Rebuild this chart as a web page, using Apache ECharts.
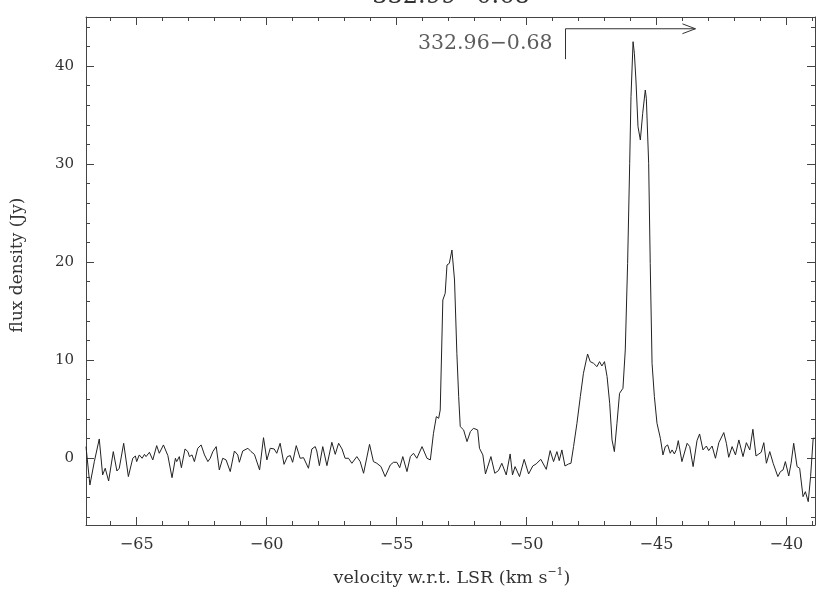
<!DOCTYPE html>
<html>
<head>
<meta charset="utf-8">
<script src="https://cdn.jsdelivr.net/npm/echarts@6/dist/echarts.min.js"></script>
<style>
  html, body { margin: 0; padding: 0; background: #fff; }
  #main { width: 822px; height: 596px; }
</style>
</head>
<body>
<div id="main"></div>
<script>
// spectrum: velocity (km/s) and flux density (Jy)
var velocity = [
  -66.95, -66.80, -66.63, -66.44, -66.31, -66.21, -66.08, -65.90, -65.76, -65.67,
  -65.50, -65.32, -65.15, -65.05, -65.00, -64.90, -64.79, -64.70, -64.64, -64.51,
  -64.38, -64.23, -64.13, -63.97, -63.80, -63.64, -63.51, -63.46, -63.36, -63.28,
  -63.14, -63.03, -62.97, -62.87, -62.78, -62.65, -62.52, -62.39, -62.26, -62.17,
  -62.07, -61.94, -61.82, -61.69, -61.56, -61.40, -61.24, -61.11, -61.05, -60.92,
  -60.72, -60.60, -60.47, -60.27, -60.12, -59.99, -59.86, -59.71, -59.61, -59.48,
  -59.33, -59.20, -59.09, -59.00, -58.86, -58.71, -58.58, -58.39, -58.26, -58.13,
  -58.07, -57.97, -57.84, -57.68, -57.49, -57.36, -57.23, -57.10, -56.98, -56.85,
  -56.72, -56.53, -56.40, -56.27, -56.04, -55.89, -55.76, -55.60, -55.44, -55.24,
  -55.12, -54.99, -54.88, -54.76, -54.60, -54.47, -54.35, -54.22, -54.02, -53.83,
  -53.70, -53.58, -53.47, -53.38, -53.32, -53.22, -53.13, -53.06, -52.97, -52.93,
  -52.87, -52.81, -52.77, -52.68, -52.61, -52.55, -52.42, -52.29, -52.16, -52.04,
  -51.88, -51.81, -51.68, -51.58, -51.37, -51.22, -51.08, -50.95, -50.78, -50.63,
  -50.54, -50.44, -50.27, -50.09, -49.92, -49.76, -49.63, -49.45, -49.24, -49.09,
  -48.96, -48.83, -48.74, -48.64, -48.52, -48.38, -48.29, -48.19, -48.06, -47.93,
  -47.81, -47.65, -47.55, -47.42, -47.29, -47.19, -47.10, -47.00, -46.90, -46.80,
  -46.71, -46.62, -46.52, -46.42, -46.29, -46.20, -46.11, -46.03, -45.98, -45.90,
  -45.85, -45.79, -45.71, -45.62, -45.53, -45.43, -45.39, -45.30, -45.24, -45.17,
  -45.08, -44.98, -44.85, -44.75, -44.66, -44.57, -44.47, -44.40, -44.31, -44.23,
  -44.16, -44.02, -43.82, -43.72, -43.59, -43.44, -43.34, -43.21, -43.08, -42.99,
  -42.86, -42.73, -42.60, -42.41, -42.31, -42.22, -42.09, -41.96, -41.83, -41.67,
  -41.54, -41.41, -41.29, -41.17, -41.06, -40.97, -40.87, -40.77, -40.64, -40.51,
  -40.33, -40.23, -40.13, -40.04, -39.91, -39.82, -39.72, -39.59, -39.49, -39.36,
  -39.27, -39.16, -39.07, -38.97, -38.90
];
var flux = [
  1.16, -2.76, -0.37, 1.94, -1.73, -1.05, -2.35, 0.65, -1.33, -1.05,
  1.50, -1.90, -0.03, 0.20, -0.37, 0.31, -0.03, 0.37, 0.14, 0.58,
  -0.20, 1.26, 0.48, 1.33, 0.24, -2.01, -0.03, -0.37, 0.14, -0.99,
  0.92, 0.65, 0.14, 0.31, -0.37, 0.99, 1.33, 0.31, -0.37, -0.03,
  0.65, 1.16, -1.22, -0.03, -0.20, -1.39, 0.71, 0.31, -0.44, 0.71,
  0.99, 0.65, 0.37, -1.22, 2.07, -0.20, 0.99, 0.92, 0.48, 1.50,
  -0.65, 0.14, 0.24, -0.44, 1.26, -0.03, 0.03, -1.05, 0.92, 1.16,
  0.71, -0.78, 1.16, -0.78, 1.60, 0.37, 1.50, 0.92, -0.03, -0.03,
  -0.54, 0.14, -0.37, -1.56, 1.39, -0.37, -0.54, -0.88, -1.90, -0.71,
  -0.44, -0.44, -0.99, 0.14, -1.39, 0.14, 0.48, -0.03, 1.16, -0.03,
  -0.20, 2.52, 4.22, 4.05, 4.90, 16.12, 16.80, 19.69, 19.86, 20.03,
  21.22, 21.16, 18.16, 10.68, 6.26, 3.20, 2.86, 1.67, 2.69, 3.03,
  2.86, 0.99, 0.31, -1.63, 0.14, -1.56, -1.29, -0.54, -1.73, 0.41,
  -1.73, -0.88, -1.90, -0.14, -1.63, -0.82, -0.61, -0.14, -1.16, 0.75,
  -0.37, 0.65, -0.27, 0.82, -0.82, -0.61, -0.54, 1.16, 3.54, 6.26,
  8.64, 10.61, 9.83, 9.66, 9.32, 9.83, 9.39, 9.83, 8.30, 5.58,
  1.84, 0.65, 3.54, 6.60, 7.11, 11.02, 19.86, 30.07, 36.87, 42.48,
  41.29, 38.57, 33.81, 32.45, 35.17, 37.55, 36.70, 30.07, 19.86, 9.66,
  6.26, 3.54, 2.01, 0.31, 1.16, 1.33, 0.48, 0.82, 0.41, 0.88,
  1.77, -0.37, 1.50, 1.16, -0.88, 1.77, 2.45, 0.82, 1.22, 0.75,
  1.22, -0.03, 1.56, 2.59, 1.50, 0.07, 1.16, 0.31, 1.84, 0.14,
  1.56, 0.82, 2.93, 0.20, 0.41, 0.58, 1.56, -0.54, 0.65, -0.54,
  -1.90, -1.39, -1.22, -0.37, -1.84, -0.54, 1.50, -0.88, -1.05, -3.95,
  -3.44, -4.46, -1.90, 2.01, 2.01
];

// tick positions
var xMajorTicks = [-65, -60, -55, -50, -45, -40];
var xMinorTicks = [-66, -64, -63, -62, -61, -59, -58, -57, -56, -54, -53, -52, -51,
                   -49, -48, -47, -46, -44, -43, -42, -41, -39];
var yMajorTicks = [0, 10, 20, 30, 40];
var yMinorTicks = [-6, -4, -2, 2, 4, 6, 8, 12, 14, 16, 18, 22, 24, 26, 28,
                   32, 34, 36, 38, 42, 44];

// source label with its arrow, in data coordinates
var sourceName = '332.96\u22120.68';
var arrowPath = [[-48.5, 40.7], [-48.5, 43.8], [-43.5, 43.8]];
var arrowHead = [[-44.0, 44.3], [-43.5, 43.8], [-44.0, 43.3]];
var labelAnchor = [-48.5, 42.3];

var xMin = -66.95, xMax = -38.9;
var yMin = -6.84, yMax = 45;

var axisColor = '#444';
var textColor = '#333';
var font = 'DejaVu Serif';

function minus(v) { return String(v).replace('-', '\u2212'); }

function xAx(pos, major, labels) {
  return {
    type: 'value', position: pos, min: xMin, max: xMax,
    splitLine: { show: false },
    axisLine: { show: major, onZero: false, lineStyle: { color: axisColor, width: 1 } },
    axisTick: {
      inside: true, length: major ? 8 : 4,
      customValues: major ? xMajorTicks : xMinorTicks,
      lineStyle: { color: axisColor, width: 1 }
    },
    axisLabel: {
      show: labels, customValues: xMajorTicks, margin: 12,
      fontFamily: font, fontSize: 16, color: textColor, formatter: minus
    }
  };
}

function yAx(pos, major, labels) {
  return {
    type: 'value', position: pos, min: yMin, max: yMax,
    splitLine: { show: false },
    axisLine: { show: major, onZero: false, lineStyle: { color: axisColor, width: 1 } },
    axisTick: {
      inside: true, length: major ? 8 : 4,
      customValues: major ? yMajorTicks : yMinorTicks,
      lineStyle: { color: axisColor, width: 1 }
    },
    axisLabel: {
      show: labels, customValues: yMajorTicks, margin: 12,
      fontFamily: font, fontSize: 15, color: textColor, formatter: minus
    }
  };
}

var spectrum = velocity.map(function (v, i) { return [v, flux[i]]; });

var option = {
  animation: false,
  backgroundColor: '#fff',
  grid: { left: 86, right: 7, top: 17, bottom: 71 },
  xAxis: [
    xAx('bottom', true, true),
    xAx('bottom', false, false),
    xAx('top', true, false),
    xAx('top', false, false)
  ],
  yAxis: [
    yAx('left', true, true),
    yAx('left', false, false),
    yAx('right', true, false),
    yAx('right', false, false)
  ],
  series: [
    {
      type: 'line', data: spectrum, showSymbol: false, clip: true,
      lineStyle: { color: '#222', width: 1 }, silent: true
    },
    {
      type: 'line', data: arrowPath, showSymbol: false,
      lineStyle: { color: '#333', width: 1 }, silent: true
    },
    {
      type: 'line', data: arrowHead, showSymbol: false,
      lineStyle: { color: '#333', width: 1 }, silent: true
    },
    {
      type: 'scatter', data: [labelAnchor], symbolSize: 0, silent: true,
      label: {
        show: true, position: 'left', distance: 13, formatter: sourceName,
        fontFamily: font, fontSize: 20.5, color: textColor
      }
    }
  ],
  graphic: [
    {
      type: 'text', x: 451, y: -3,
      style: {
        text: '332.99\u22120.68', align: 'center', verticalAlign: 'middle',
        font: '24px "DejaVu Serif"', fill: textColor
      }
    },
    {
      type: 'text', x: 452, y: 578,
      style: {
        text: '{n|velocity w.r.t. LSR (km s}{s|\u22121}{n|)}',
        align: 'center', verticalAlign: 'middle',
        rich: {
          n: { fontFamily: font, fontSize: 17.5, fill: textColor },
          s: { fontFamily: font, fontSize: 11, fill: textColor, verticalAlign: 'top', padding: [0, 0, 11, 0] }
        }
      }
    },
    {
      type: 'text', x: 18, y: 265, rotation: Math.PI / 2,
      style: {
        text: 'flux density (Jy)', align: 'center', verticalAlign: 'middle',
        font: '17px "DejaVu Serif"', fill: textColor
      }
    }
  ]
};

var chart = echarts.init(document.getElementById('main'), null, { renderer: 'canvas' });
chart.setOption(option);
</script>
</body>
</html>
